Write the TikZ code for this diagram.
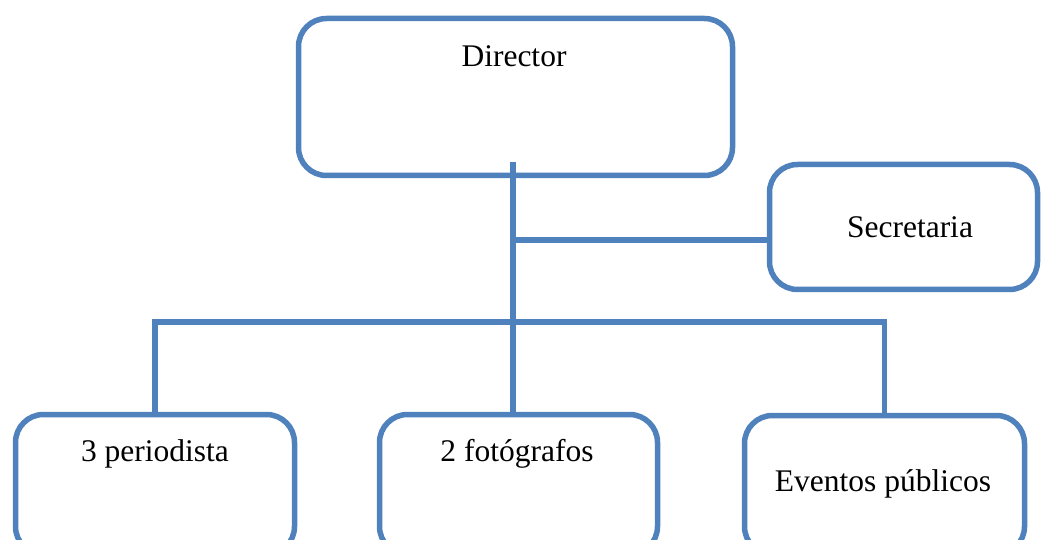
\documentclass[tikz,border=0pt]{standalone}
\usepackage{fontspec}
\setmainfont{Liberation Serif}
\definecolor{blueC}{HTML}{4F81BD}
\begin{document}
\begin{tikzpicture}[x=1pt,y=-1pt,
  box/.style={draw=blueC, line width=5.5pt, rounded corners=28pt, inner sep=0pt, fill=white},
  wire/.style={draw=blueC, line width=5.5pt},
  lbl/.style={font=\fontsize{31.5}{36}\selectfont, inner sep=0pt, anchor=base}]
\useasboundingbox (0,0) rectangle (1042,540);
\clip (0,0) rectangle (1042,540);
% boxes
\node[box, minimum width=434pt, minimum height=157pt] (dir) at (515.5,97) {};
\node[box, minimum width=268pt, minimum height=125pt] (sec) at (903.5,227) {};
\node[box, minimum width=279pt, minimum height=140pt] (peri) at (155,484.5) {};
\node[box, minimum width=278pt, minimum height=140pt] (foto) at (518.5,484.5) {};
\node[box, minimum width=280pt, minimum height=139pt] (event) at (884.5,485) {};
% labels
\node[lbl] (dirt) at (514,66.5) {Director};
\node[lbl] (sect) at (910,238) {Secretaria};
\node[lbl] (perit) at (155,461) {3 periodista};
\node[lbl] (fotot) at (517,461) {2 fotógrafos};
\node[lbl] (eventt) at (883,491.5) {Eventos públicos};
% connectors
\coordinate (hub) at (513,322);
\coordinate (sj) at (513,240);
\draw[wire] (hub |- dir.south) ++(0,-16) -- (hub |- foto.north);
\draw[wire] (sj) -- (sj -| sec.west);
\draw[wire] ([yshift=-5pt]peri.north) -- (peri.north |- hub) -- (event.north |- hub) -- (event.north);
\end{tikzpicture}
\end{document}
